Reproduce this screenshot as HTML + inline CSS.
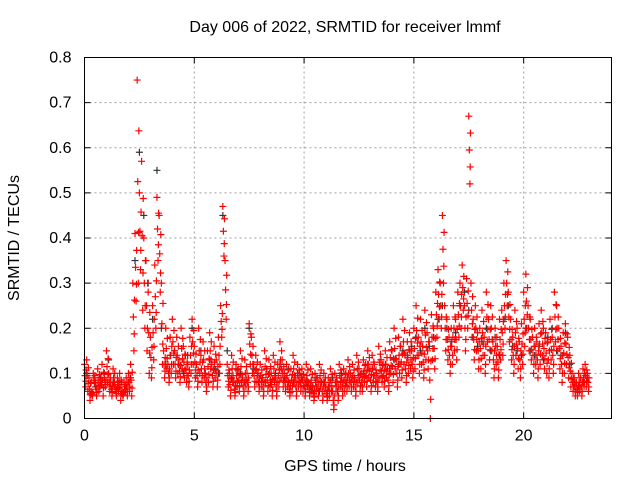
<!DOCTYPE html>
<html><head><meta charset="utf-8"><style>
body{margin:0;background:#fff}
svg text{font-family:"Liberation Sans",sans-serif;font-size:16px;fill:#000}
</style></head><body>
<svg id="chart" width="640" height="480">
<text x="345" y="32" text-anchor="middle">Day 006 of 2022, SRMTID for receiver lmmf</text>
<text transform="translate(19,238) rotate(-90)" text-anchor="middle">SRMTID / TECUs</text>
<text x="345" y="471" text-anchor="middle">GPS time / hours</text>
<g id="grid"></g><g id="ticks"></g><g id="marks"></g>
<rect x="84.5" y="57.5" width="527" height="361" fill="none" stroke="#000"/>
</svg>
<script>
const xTicks=[0,5,10,15,20];
const yTicks=[0,0.1,0.2,0.3,0.4,0.5,0.6,0.7,0.8];
const yTickLabels=["0","0.1","0.2","0.3","0.4","0.5","0.6","0.7","0.8"];
const stepA=0.1;
const redUpper=[.12,.13,.09,.06,.10,.08,.11,.07,.12,.09,.15,.10,.08,.11,.07,.09,.10,.06,.08,.09,.10,.12,.30,.41,.75,.50,.57,.40,.35,.28,.18,.25,.34,.49,.45,.30,.15,.20,.12,.18,.22,.15,.18,.13,.20,.16,.14,.12,.18,.22,.16,.12,.20,.14,.17,.10,.15,.19,.12,.16,.13,.18,.25,.47,.35,.12,.10,.14,.08,.12,.11,.15,.09,.13,.10,.21,.18,.12,.14,.10,.12,.09,.15,.11,.13,.10,.14,.09,.12,.17,.13,.10,.12,.08,.11,.14,.09,.12,.10,.11,.09,.12,.08,.11,.07,.10,.09,.12,.08,.10,.07,.09,.11,.06,.10,.08,.12,.09,.11,.10,.13,.10,.12,.09,.14,.11,.10,.13,.12,.15,.11,.14,.12,.10,.16,.13,.12,.15,.11,.17,.15,.20,.13,.18,.16,.22,.14,.17,.19,.15,.20,.25,.18,.22,.16,.24,.19,.17,.23,.20,.28,.33,.30,.45,.25,.22,.18,.20,.25,.22,.28,.30,.34,.25,.31,.67,.30,.22,.25,.19,.20,.24,.18,.28,.22,.25,.17,.20,.16,.22,.24,.30,.35,.28,.22,.18,.24,.20,.17,.21,.28,.32,.25,.22,.18,.20,.17,.21,.24,.20,.19,.17,.22,.18,.28,.25,.20,.16,.19,.21,.18,.14,.10,.09,.08,.10,.09,.11,.12,.10];
const redLower=[.07,.06,.04,.05,.08,.05,.06,.09,.05,.07,.08,.06,.05,.07,.05,.06,.04,.05,.06,.05,.06,.05,.15,.26,.30,.33,.24,.20,.15,.10,.09,.13,.20,.35,.28,.12,.09,.11,.08,.10,.12,.09,.10,.08,.11,.09,.08,.07,.10,.12,.09,.07,.10,.08,.09,.06,.08,.11,.07,.09,.07,.10,.18,.36,.22,.07,.05,.08,.05,.07,.06,.08,.05,.07,.06,.12,.10,.07,.08,.06,.07,.05,.08,.06,.07,.05,.08,.05,.07,.09,.07,.06,.07,.05,.06,.08,.05,.07,.06,.06,.05,.07,.05,.06,.04,.06,.05,.07,.04,.06,.04,.05,.06,.02,.06,.04,.07,.05,.06,.06,.07,.06,.07,.05,.08,.06,.06,.08,.07,.09,.06,.08,.07,.06,.09,.08,.07,.09,.06,.10,.08,.11,.07,.10,.09,.12,.08,.10,.11,.09,.11,.14,.10,.12,.09,.13,.11,.00,.13,.11,.18,.22,.20,.30,.15,.13,.10,.12,.15,.13,.18,.20,.24,.15,.20,.52,.18,.13,.15,.11,.11,.14,.10,.17,.13,.15,.09,.12,.09,.13,.14,.20,.25,.17,.13,.10,.14,.11,.09,.12,.16,.20,.15,.13,.10,.12,.09,.12,.14,.11,.10,.09,.13,.10,.17,.15,.11,.08,.10,.12,.09,.07,.06,.05,.05,.06,.05,.07,.07,.06];
const stepB=0.2;
const blackVals=[.10,.08,.07,.09,.10,.13,.08,.07,.08,.07,.09,.35,.59,.45,.30,.22,.55,.20,.12,.14,.15,.12,.10,.14,.20,.12,.15,.10,.13,.11,.10,.45,.15,.09,.11,.10,.08,.20,.11,.10,.09,.11,.08,.10,.12,.09,.11,.08,.10,.09,.08,.07,.09,.06,.08,.07,.09,.08,.10,.08,.10,.09,.11,.10,.12,.11,.10,.13,.12,.11,.13,.12,.15,.14,.16,.18,.15,.20,.16,.18,.22,.25,.20,.17,.19,.25,.28,.24,.18,.16,.17,.20,.15,.18,.14,.22,.25,.16,.15,.14,.20,.15,.14,.16,.13,.18,.20,.15,.14,.19,.12,.08,.07,.08,.09];
const X0=84.5,X1=611.5,Y0=418.5,Y1=57.5;
const xs=t=>X0+t/24*(X1-X0);
const ys=v=>Y0-v/0.8*(Y0-Y1);
const NS="http://www.w3.org/2000/svg";
const grid=document.getElementById('grid'),ticks=document.getElementById('ticks'),marks=document.getElementById('marks');
function mk(tag,attrs,parent){const e=document.createElementNS(NS,tag);for(const k in attrs)e.setAttribute(k,attrs[k]);parent.appendChild(e);return e;}
xTicks.forEach(t=>{const x=xs(t);
 if(t>0){const g=mk('line',{x1:x,x2:x,y1:Y0,y2:Y1,stroke:'#a0a0a0','stroke-dasharray':'2,3'},grid);
 
 }
 const l=mk('text',{x:x,y:Y0+22,'text-anchor':'middle'},ticks);l.textContent=t;
 
 
 mk('line',{x1:x,x2:x,y1:Y0,y2:Y0-6,stroke:'#000'},ticks);mk('line',{x1:x,x2:x,y1:Y1,y2:Y1+6,stroke:'#000'},ticks);});
yTicks.forEach((v,i)=>{const y=ys(v);
 if(v>0&&v<0.8){const g=mk('line',{x1:X0,x2:X1,y1:y,y2:y,stroke:'#a0a0a0','stroke-dasharray':'2,3'},grid);
 
 }
 const l=mk('text',{x:X0-13,y:y+5,'text-anchor':'end'},ticks);l.textContent=yTickLabels[i];
 
 
 mk('line',{x1:X0,x2:X0+6,y1:y,y2:y,stroke:'#000'},ticks);mk('line',{x1:X1,x2:X1-6,y1:y,y2:y,stroke:'#000'},ticks);});
function cross(t,v,c,name){const x=xs(t),y=ys(v);
 const p=mk('path',{d:`M${x-3.5},${y}h7M${x},${y-3.5}v7`,stroke:c,'stroke-width':1.2,fill:'none'},marks);
 
 }
blackVals.forEach((v,i)=>cross(i*stepB+0.1,v,'#333','black-point'));
redUpper.forEach((v,i)=>{
 const lo=redLower[i];
 cross(i*stepA,v,'#ff0000','red-point');
 cross(i*stepA+0.05,lo,'#ff0000','red-point');
 cross(i*stepA+0.025,(v+lo)/2,'#ff0000','red-point');
 cross(i*stepA+0.075,(3*v+lo)/4,'#ff0000','red-point');
 cross(i*stepA+0.065,(v+3*lo)/4,'#ff0000','red-point');
});
</script>
</body></html>
